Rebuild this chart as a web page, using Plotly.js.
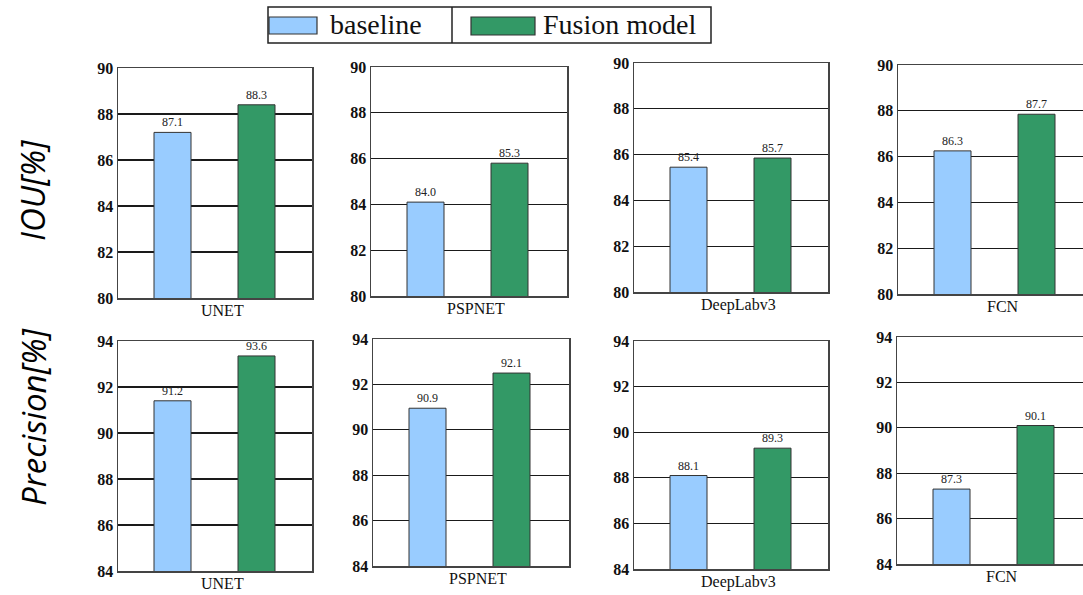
<!DOCTYPE html>
<html>
<head>
<meta charset="utf-8">
<script src="https://cdn.plot.ly/plotly-3.0.1.min.js"></script>
<style>html,body{margin:0;padding:0;background:#fff;}#chart{width:1083px;height:595px;}</style>
</head>
<body>
<div id="chart"></div>
<script>
// ---- data ----
const models = ['UNET', 'PSPNET', 'DeepLabv3', 'FCN'];
const seriesNames = ['baseline', 'Fusion model'];
const metricNames = ['IOU[%]', 'Precision[%]'];
// bar heights as drawn
const iouBaseline = [87.2, 84.1, 85.45, 86.25];
const iouFusion = [88.4, 85.8, 85.85, 87.85];
const precBaseline = [91.4, 90.95, 88.1, 87.3];
const precFusion = [93.35, 92.5, 89.3, 90.1];
// printed value labels
const iouBaselineLabels = ['87.1', '84.0', '85.4', '86.3'];
const iouFusionLabels = ['88.3', '85.3', '85.7', '87.7'];
const precBaselineLabels = ['91.2', '90.9', '88.1', '87.3'];
const precFusionLabels = ['93.6', '92.1', '89.3', '90.1'];
// axis ranges / ticks
const iouRange = [80, 90];
const precRange = [84, 94];
const tickStep = 2;

// ---- layout geometry (pixels) ----
const W = 1083, H = 595;
const panels = [
  {l:118, r:312, t:68, b:298},
  {l:371, r:567, t:67, b:296},
  {l:634, r:828, t:63, b:292},
  {l:898, r:1083, t:65, b:294, cut:true},
  {l:118, r:312, t:341, b:571},
  {l:373, r:569, t:339, b:566},
  {l:634, r:828, t:341, b:569},
  {l:897, r:1083, t:337, b:564, cut:true}
];
const colors = ['#99ccff', '#339966'];
const serif = 'Liberation Serif, Times New Roman, serif';

const traces = [];
const layout = {
  width: W, height: H,
  margin: {l:0, r:0, t:0, b:0},
  paper_bgcolor: '#fff', plot_bgcolor: '#fff',
  showlegend: false,
  bargap: 0,
  annotations: [], shapes: []
};

const rows = [
  {base: iouBaseline, fus: iouFusion, bl: iouBaselineLabels, fl: iouFusionLabels, range: iouRange},
  {base: precBaseline, fus: precFusion, bl: precBaselineLabels, fl: precFusionLabels, range: precRange}
];

const pxPerUnit = 84;       // distance between bar centres
const leftOffset = 54.5;    // px from left edge to first bar centre
const barW = 37 / pxPerUnit;

let idx = 0;
rows.forEach((row, ri) => {
  models.forEach((m, mi) => {
    const p = panels[idx];
    const n = idx + 1;
    const xa = 'x' + (n === 1 ? '' : n), ya = 'y' + (n === 1 ? '' : n);
    const xKey = 'xaxis' + (n === 1 ? '' : n), yKey = 'yaxis' + (n === 1 ? '' : n);
    const vals = [row.base[mi], row.fus[mi]];
    const labs = [row.bl[mi], row.fl[mi]];
    seriesNames.forEach((s, si) => {
      traces.push({
        type: 'bar', name: s,
        x: [s], y: [vals[si]],
        text: [labs[si]], textposition: 'outside', cliponaxis: false,
        textfont: {family: serif, size: 12, color: '#222'},
        marker: {color: colors[si], line: {color: '#333', width: 1}},
        width: barW,
        xaxis: xa, yaxis: ya, hoverinfo: 'skip'
      });
    });
    const left = -leftOffset / pxPerUnit;
    const right = left + (p.r - p.l) / pxPerUnit;
    layout[xKey] = {
      domain: [p.l / W, p.r / W], anchor: ya,
      type: 'category', categoryorder: 'array', categoryarray: seriesNames,
      range: [left, right], showticklabels: false, ticks: '',
      showgrid: false, zeroline: false,
      showline: true, linecolor: '#444', linewidth: 1.5, mirror: true, fixedrange: true
    };
    layout[yKey] = {
      domain: [1 - p.b / H, 1 - p.t / H], anchor: xa,
      range: row.range, dtick: tickStep, tick0: row.range[0], ticks: '',
      showgrid: true, gridcolor: '#1a1a1a', gridwidth: 1.2, zeroline: false,
      showline: true, linecolor: '#444', linewidth: 1.5, mirror: p.cut ? false : true,
      tickfont: {family: serif, size: 16, color: '#111', weight: 'bold'}, fixedrange: true
    };
    layout.annotations.push({
      text: m, xref: xa, yref: ya + ' domain', x: 0.6, y: 0,
      xanchor: 'center', yanchor: 'top', yshift: -2, showarrow: false,
      font: {family: serif, size: 16, color: '#111'}
    });
    idx++;
  });
});

// row titles
const rowCenters = [190, 417];
metricNames.forEach((t, i) => {
  layout.annotations.push({
    text: '<i>' + t + '</i>', xref: 'paper', yref: 'paper',
    x: 33 / W, y: 1 - rowCenters[i] / H, textangle: -90,
    xanchor: 'center', yanchor: 'middle', showarrow: false,
    font: {family: 'Open Sans, sans-serif', size: 33, color: '#000'}
  });
});

// custom legend box
const px = v => v / W, py = v => 1 - v / H;
layout.shapes.push(
  {type: 'rect', xref: 'paper', yref: 'paper', x0: px(268), x1: px(711), y0: py(43), y1: py(7), line: {color: '#222', width: 1.5}, fillcolor: 'rgba(0,0,0,0)'},
  {type: 'line', xref: 'paper', yref: 'paper', x0: px(452), x1: px(452), y0: py(43), y1: py(7), line: {color: '#222', width: 1.5}},
  {type: 'rect', xref: 'paper', yref: 'paper', x0: px(269), x1: px(317), y0: py(34), y1: py(17), line: {color: '#333', width: 1.2}, fillcolor: colors[0]},
  {type: 'rect', xref: 'paper', yref: 'paper', x0: px(471), x1: px(535), y0: py(35), y1: py(17), line: {color: '#333', width: 1.2}, fillcolor: colors[1]}
);
const legTextX = [328, 541];
seriesNames.forEach((s, i) => {
  layout.annotations.push({
    text: s, xref: 'paper', yref: 'paper', x: px(legTextX[i]), y: py(25),
    xanchor: 'left', yanchor: 'middle', showarrow: false,
    font: {family: serif, size: 28, color: '#111'}
  });
});

Plotly.newPlot('chart', traces, layout, {displayModeBar: false, staticPlot: true});
</script>
</body>
</html>
